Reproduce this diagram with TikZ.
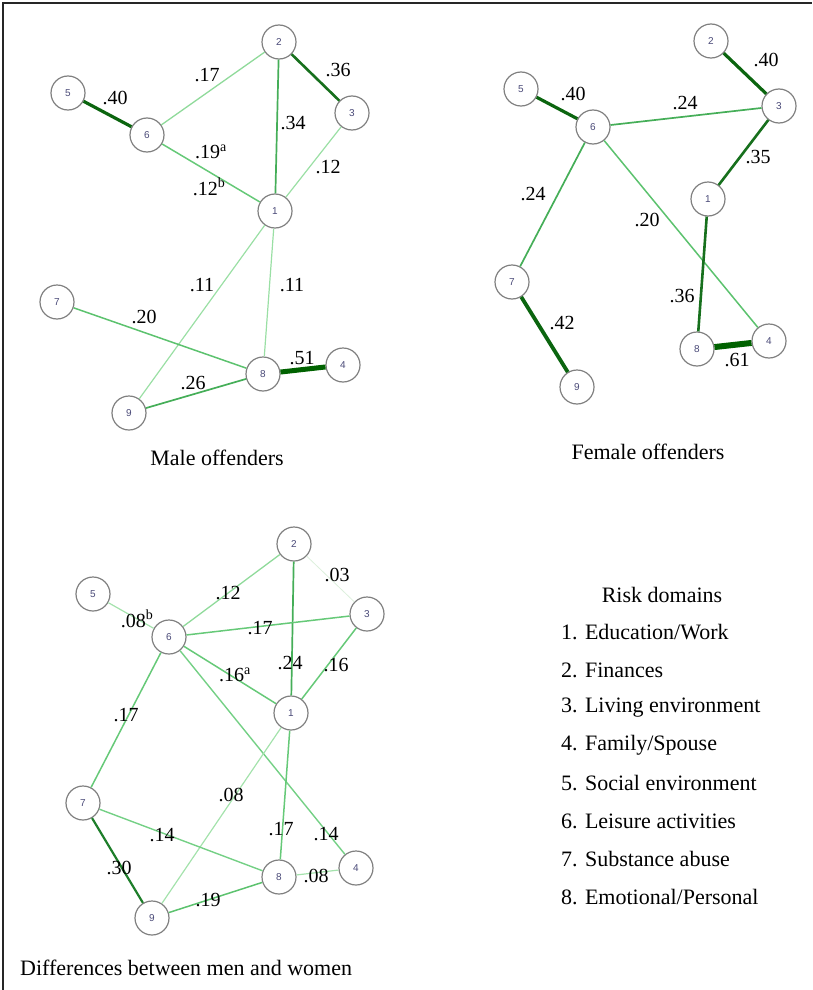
\documentclass[tikz,border=0pt]{standalone}
\usepackage{fontspec}
\setmainfont{Liberation Serif}
\newfontfamily\numfont{Liberation Sans}
\definecolor{numcol}{HTML}{4A4A78}
\definecolor{g03}{HTML}{DCEFDC}
\definecolor{g08}{HTML}{A4E2AC}
\definecolor{g11}{HTML}{9ADFA4}
\definecolor{g12}{HTML}{8FDA9A}
\definecolor{g14}{HTML}{74D085}
\definecolor{g17}{HTML}{66C978}
\definecolor{g20}{HTML}{5CC26E}
\definecolor{g24}{HTML}{45AE58}
\definecolor{g30}{HTML}{1E7E2A}
\definecolor{g35}{HTML}{17701D}
\definecolor{g40}{HTML}{0B650F}
\definecolor{g51}{HTML}{006200}
\begin{document}
\begin{tikzpicture}[x=1pt,y=-1pt,
  rn/.style={circle,draw=black!50,line width=1.2pt,fill=white,minimum size=34pt,inner sep=0pt,font=\numfont\fontsize{10}{12}\selectfont,text=numcol},
  lab/.style={font=\fontsize{20}{24}\selectfont,inner sep=0pt},
  ttl/.style={font=\fontsize{22}{26}\selectfont,inner sep=0pt},
  leg/.style={font=\fontsize{22}{26}\selectfont,inner sep=0pt,anchor=west},
  w03/.style={draw=g03,line width=0.8pt},
  w08/.style={draw=g08,line width=1.2pt},
  w11/.style={draw=g11,line width=1.2pt},
  w12/.style={draw=g12,line width=1.3pt},
  w14/.style={draw=g14,line width=1.4pt},
  w17/.style={draw=g17,line width=1.5pt},
  w20/.style={draw=g20,line width=1.5pt},
  w24/.style={draw=g24,line width=1.7pt},
  w30/.style={draw=g30,line width=2.2pt},
  w35/.style={draw=g35,line width=2.6pt},
  w40/.style={draw=g40,line width=3.2pt},
  w42/.style={draw=g40,line width=3.8pt},
  w51/.style={draw=g51,line width=5pt},
  w61/.style={draw=g51,line width=6pt}
]
\path[use as bounding box] (0,0) rectangle (812,990);
\draw[line width=2pt,black!85] (3,990) -- (3,3) -- (812,3);

% ---------------- Male offenders ----------------
\node[rn] (m1) at (275,211) {1};
\node[rn] (m2) at (279,42) {2};
\node[rn] (m3) at (352,113) {3};
\node[rn] (m4) at (343,365) {4};
\node[rn] (m5) at (68,93) {5};
\node[rn] (m6) at (147,135) {6};
\node[rn] (m7) at (57,302) {7};
\node[rn] (m8) at (263,374) {8};
\node[rn] (m9) at (129,413) {9};
\draw[w40] (m5) -- (m6);
\draw[w12] (m6) -- (m2);
\draw[w35] (m2) -- (m3);
\draw[w24] (m2) -- (m1);
\draw[w11] (m3) -- (m1);
\draw[w17] (m6) -- (m1);
\draw[w11] (m1) -- (m9);
\draw[w11] (m1) -- (m8);
\draw[w20] (m7) -- (m8);
\draw[w24] (m9) -- (m8);
\draw[w51] (m8) -- (m4);
\node[lab] (lm56) at (115,98) {.40};
\node[lab] (lm62) at (207,75) {.17};
\node[lab] (lm23) at (338,70) {.36};
\node[lab] (lm21) at (293,123) {.34};
\node[lab] (lm61a) at (211,152) {.19\textsuperscript{a}};
\node[lab] (lm61b) at (209,187) {.12\textsuperscript{b}};
\node[lab] (lm31) at (328,167) {.12};
\node[lab] (lm19) at (202,285) {.11};
\node[lab] (lm18) at (292,285) {.11};
\node[lab] (lm78) at (144,317) {.20};
\node[lab] (lm84) at (302,358) {.51};
\node[lab] (lm98) at (193,383) {.26};
\node[ttl] (tm) at (217,458) {Male offenders};

% ---------------- Female offenders ----------------
\node[rn] (f1) at (708,199) {1};
\node[rn] (f2) at (711,41) {2};
\node[rn] (f3) at (779,106) {3};
\node[rn] (f4) at (769,341) {4};
\node[rn] (f5) at (521,89) {5};
\node[rn] (f6) at (593,127) {6};
\node[rn] (f7) at (512,282) {7};
\node[rn] (f8) at (697,349) {8};
\node[rn] (f9) at (577,387) {9};
\draw[w40] (f2) -- (f3);
\draw[w40] (f5) -- (f6);
\draw[w24] (f6) -- (f3);
\draw[w35] (f3) -- (f1);
\draw[w24] (f6) -- (f7);
\draw[w20] (f6) -- (f4);
\draw[w35] (f1) -- (f8);
\draw[w42] (f7) -- (f9);
\draw[w61] (f8) -- (f4);
\node[lab] (lf23) at (766,60) {.40};
\node[lab] (lf56) at (573,94) {.40};
\node[lab] (lf63) at (685,103) {.24};
\node[lab] (lf31) at (758,157) {.35};
\node[lab] (lf67) at (533,194) {.24};
\node[lab] (lf64) at (647,220) {.20};
\node[lab] (lf18) at (682,296) {.36};
\node[lab] (lf79) at (562,323) {.42};
\node[lab] (lf84) at (737,360) {.61};
\node[ttl] (tf) at (648,452) {Female offenders};

% ---------------- Differences ----------------
\node[rn] (d1) at (291,713) {1};
\node[rn] (d2) at (294,544) {2};
\node[rn] (d3) at (367,614) {3};
\node[rn] (d4) at (356,868) {4};
\node[rn] (d5) at (93,594) {5};
\node[rn] (d6) at (169,637) {6};
\node[rn] (d7) at (83,803) {7};
\node[rn] (d8) at (279,877) {8};
\node[rn] (d9) at (152,918) {9};
\draw[w08] (d5) -- (d6);
\draw[w12] (d6) -- (d2);
\draw[w03] (d2) -- (d3);
\draw[w24] (d2) -- (d1);
\draw[w17] (d6) -- (d3);
\draw[w17] (d6) -- (d1);
\draw[w17] (d3) -- (d1);
\draw[w17] (d6) -- (d7);
\draw[w14] (d6) -- (d4);
\draw[w08] (d1) -- (d9);
\draw[w17] (d1) -- (d8);
\draw[w14] (d7) -- (d8);
\draw[w30] (d7) -- (d9);
\draw[w20] (d9) -- (d8);
\draw[w08] (d8) -- (d4);
\node[lab] (ld23) at (337,575) {.03};
\node[lab] (ld62) at (228,593) {.12};
\node[lab] (ld56) at (137,619) {.08\textsuperscript{b}};
\node[lab] (ld63) at (260,628) {.17};
\node[lab] (ld21) at (290,663) {.24};
\node[lab] (ld31) at (336,665) {.16};
\node[lab] (ld61) at (235,675) {.16\textsuperscript{a}};
\node[lab] (ld67) at (126,715) {.17};
\node[lab] (ld19) at (231,795) {.08};
\node[lab] (ld78) at (162,835) {.14};
\node[lab] (ld18) at (281,829) {.17};
\node[lab] (ld64) at (326,834) {.14};
\node[lab] (ld79) at (119,868) {.30};
\node[lab] (ld84) at (316,876) {.08};
\node[lab] (ld98) at (208,900) {.19};
\node[ttl,anchor=west] (td) at (20,968) {Differences between men and women};

% ---------------- Legend ----------------
\node[ttl] (lgt) at (662,595) {Risk domains};
\node[leg] (lg1) at (561,632) {1. Education/Work};
\node[leg] (lg2) at (561,670) {2. Finances};
\node[leg] (lg3) at (561,708) {3. Living environment};
\node[leg] (lg4) at (561,745) {4. Family/Spouse};
\node[leg] (lg5) at (561,783) {5. Social environment};
\node[leg] (lg6) at (561,821) {6. Leisure activities};
\node[leg] (lg7) at (561,859) {7. Substance abuse};
\node[leg] (lg8) at (561,897) {8. Emotional/Personal};
\end{tikzpicture}
\end{document}
